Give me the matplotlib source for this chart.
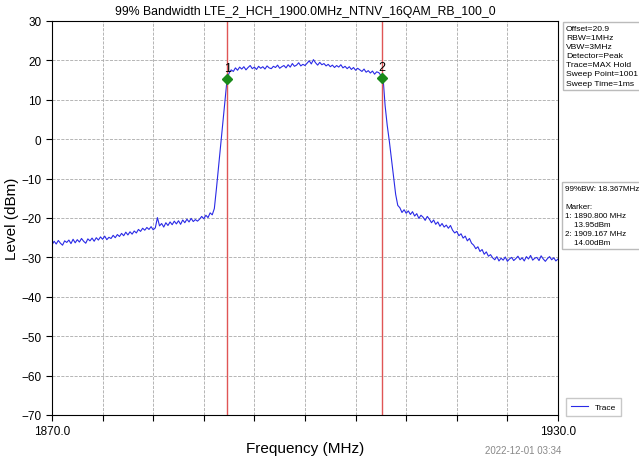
import numpy as np
import matplotlib
matplotlib.use('Agg')
import matplotlib.pyplot as plt
import matplotlib.ticker as ticker

plt.rcParams['font.family'] = ['Liberation Sans', 'DejaVu Sans']

title = '99% Bandwidth LTE_2_HCH_1900.0MHz_NTNV_16QAM_RB_100_0'
f_start, f_stop = 1870.0, 1930.0

# trace, one value every 0.25 MHz
level = [
    -26.8, -25.9, -26.6, -25.7, -26.4, -26.9, -25.8, -26.2, -25.6, -26.5,
    -25.4, -26.3, -25.5, -26.1, -25.2, -25.9, -26.4, -25.3, -25.8, -25.1,
    -25.9, -25.0, -25.6, -24.8, -25.4, -24.6, -25.5, -24.9, -25.2, -24.4,
    -25.0, -24.2, -24.7, -23.9, -24.5, -23.6, -24.3, -23.5, -24.1, -23.3,
    -23.8, -22.9, -23.4, -22.6, -23.1, -22.4, -22.9, -22.2, -23.0, -22.5,
    -19.9, -22.0, -21.4, -22.3, -21.2, -21.9, -21.0, -21.7, -20.8, -21.5,
    -20.7, -21.6, -20.5, -21.2, -20.3, -21.0, -20.1, -20.9, -20.4, -20.8,
    -20.3, -19.6, -20.2, -19.3, -19.9, -18.7, -19.2, -17.6, -12.5, -7.0,
    -1.5, 4.0, 9.5, 15.0, 16.8, 17.6, 17.2, 18.1, 17.5, 18.3,
    17.8, 18.4, 17.6, 18.2, 18.7, 17.9, 18.3, 17.7, 18.5, 18.0,
    18.4, 17.8, 18.6, 18.1, 17.9, 18.5, 18.2, 18.8, 18.0, 18.4,
    18.7, 18.1, 18.9, 18.3, 19.2, 18.5, 18.8, 19.4, 18.6, 19.0,
    18.7, 19.3, 19.9, 19.1, 20.2, 19.4, 18.8, 19.5, 18.9, 19.2,
    18.6, 19.0, 18.4, 18.8, 18.2, 18.7, 18.3, 18.9, 18.1, 18.5,
    17.9, 18.4, 17.7, 18.2, 17.5, 18.0, 17.6, 17.2, 17.8, 17.0,
    17.4, 16.8, 17.3, 16.5, 17.1, 16.9, 16.2, 15.8, 8.5, 3.5,
    -0.5, -5.0, -9.5, -14.0, -16.8, -17.4, -18.6, -17.9, -18.8, -18.2,
    -19.1, -18.4, -19.5, -18.9, -20.1, -19.3, -19.8, -20.6, -19.6, -20.3,
    -21.2, -20.5, -21.6, -21.0, -22.1, -21.4, -22.3, -21.8, -22.6, -21.9,
    -23.1, -23.8, -23.4, -24.5, -24.0, -25.1, -24.6, -25.8, -25.2, -26.4,
    -26.9, -27.8, -27.3, -28.5, -28.0, -29.2, -28.6, -29.7, -29.3, -30.1,
    -30.6, -29.8, -30.9, -30.2, -30.7, -29.9, -31.0, -30.4, -30.0, -30.8,
    -30.3, -29.7, -30.6, -30.1, -30.9, -29.8, -30.4, -29.5, -30.7, -30.2,
    -30.0, -30.8, -29.6, -30.4, -31.0, -30.3, -29.8, -30.6, -30.1, -30.9,
    -30.4,
]
freq = np.linspace(f_start, f_stop, len(level))

marker_freq = [1890.800, 1909.167]
marker_level = [15.4, 15.6]
marker_names = ['1', '2']

settings = ['Offset=20.9', 'RBW=1MHz', 'VBW=3MHz', 'Detector=Peak',
            'Trace=MAX Hold', 'Sweep Point=1001', 'Sweep Time=1ms']
results = ['99%BW: 18.367MHz', '', 'Marker:', '1: 1890.800 MHz',
           '    13.95dBm', '2: 1909.167 MHz', '    14.00dBm']
timestamp = '2022-12-01 03:34'


def end_label(x, pos):
    if abs(x - f_start) < 1e-6 or abs(x - f_stop) < 1e-6:
        return '%.1f' % x
    return ''


def plot():
    fig = plt.figure(figsize=(6.39, 4.60), dpi=100)
    ax = fig.add_axes([52 / 639, 1 - 416 / 460, 506 / 639, 394 / 460])

    ax.plot(freq, level, color='#2a2ae6', linewidth=0.8, label='Trace')
    for f in marker_freq:
        ax.axvline(f, color='#e05555', linewidth=1.0)
    ax.plot(marker_freq, marker_level, linestyle='none', marker='D',
            markersize=5, color='#1a8a1a')
    for f, v, name in zip(marker_freq, marker_level, marker_names):
        ax.text(f, v + 1.2, name, ha='center', va='bottom', fontsize=9)

    ax.set_xlim(f_start, f_stop)
    ax.set_ylim(-70, 30)
    ax.xaxis.set_major_locator(ticker.LinearLocator(11))
    ax.yaxis.set_major_locator(ticker.MultipleLocator(10))
    ax.xaxis.set_major_formatter(ticker.FuncFormatter(end_label))
    ax.tick_params(labelsize=8.5, direction='out', length=4)
    ax.grid(color='#aaaaaa', linestyle='--', linewidth=0.6)

    ax.set_title(title, fontsize=8.8, pad=5)
    ax.set_ylabel('Level (dBm)', fontsize=11, labelpad=2)
    fig.text(305 / 639, 1 - 449 / 460, 'Frequency (MHz)', fontsize=11,
             ha='center', va='center')

    fig.text(485 / 639, 1 - 451 / 460, timestamp, fontsize=7,
             color='#888888', va='center')

    box = dict(facecolor='white', edgecolor='#bbbbbb', boxstyle='square,pad=0.35')
    fig.text(566 / 639, 1 - 26 / 460, '\n'.join(settings), fontsize=6.1,
             va='top', ha='left', linespacing=1.42, bbox=box)
    fig.text(565 / 639, 1 - 186 / 460, '\n'.join(results), fontsize=5.8,
             va='top', ha='left', linespacing=1.4, bbox=box)

    fig.legend(loc='lower left', bbox_to_anchor=(562 / 639, 1 - 421 / 460),
               fontsize=6, frameon=True, handlelength=2.0,
               borderpad=0.6, fancybox=False, edgecolor='#bbbbbb')

    fig.savefig('out.png', dpi=100)


if __name__ == '__main__':
    plot()
